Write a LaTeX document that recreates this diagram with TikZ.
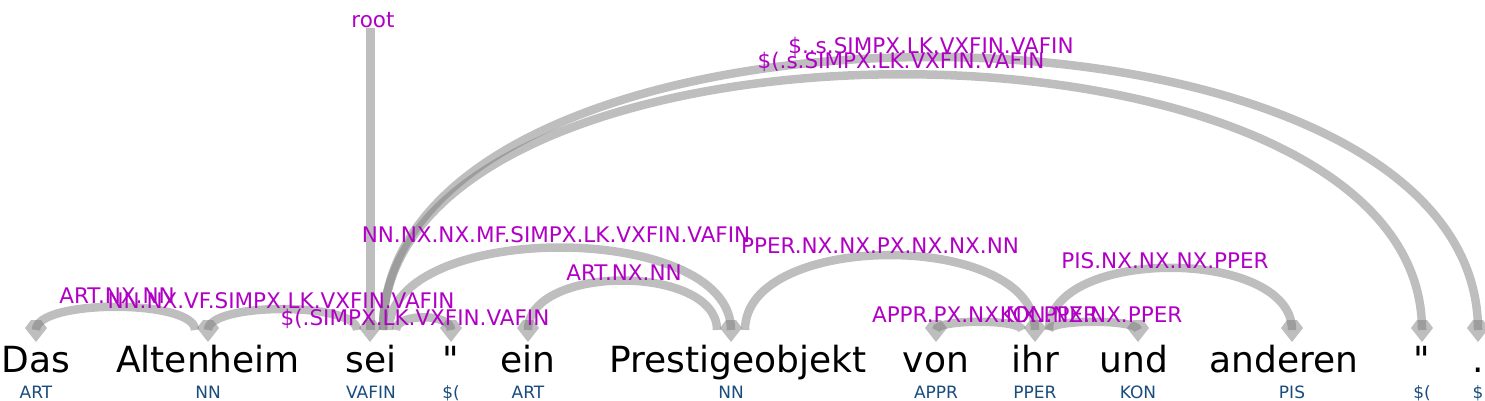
\documentclass[tikz,border=0pt]{standalone}
\usepackage{fontspec}
\newfontfamily\dejavu{DejaVu Sans}
\definecolor{lblc}{RGB}{176,0,196}
\definecolor{tagc}{RGB}{25,75,125}
\definecolor{arcc}{RGB}{125,125,125}
\tikzset{
  word/.style={anchor=base, inner sep=0pt, font=\dejavu\fontsize{36}{40}\selectfont},
  tagtext/.style={anchor=base, inner sep=0pt, text=tagc, font=\dejavu\fontsize{17}{20}\selectfont},
  lbl/.style={anchor=base, inner sep=0pt, text=lblc, font=\dejavu\fontsize{21.5}{24}\selectfont},
  arcline/.style={draw=arcc, draw opacity=0.5, line width=8.5pt},
  kite/.pic={\fill[arcc, fill opacity=0.5] (-5,-10) -- (5,-10) -- (11,-2) -- (0,12) -- (-11,-2) -- cycle;}
}
\begin{document}
\begin{tikzpicture}[x=1pt,y=-1pt]
\useasboundingbox (0,0) rectangle (1485,400);
% words
\node[word] (w1) at (36,372) {Das};
\node[word] (w2) at (208,372) {Altenheim};
\node[word] (w3) at (371,372) {sei};
\node[word] (w4) at (451,372) {"};
\node[word] (w5) at (528,372) {ein};
\node[word] (w6) at (738,372) {Prestigeobjekt};
\node[word] (w7) at (936,372) {von};
\node[word] (w8) at (1035,372) {ihr};
\node[word] (w9) at (1134,372) {und};
\node[word] (w10) at (1284,372) {anderen};
\node[word] (w11) at (1422,372) {"};
\node[word] (w12) at (1478,372) {.};
% tags
\node[tagtext] (t1) at (36,398) {ART};
\node[tagtext] (t2) at (208,398) {NN};
\node[tagtext] (t3) at (371,398) {VAFIN};
\node[tagtext] (t4) at (451,398) {\$(};
\node[tagtext] (t5) at (528,398) {ART};
\node[tagtext] (t6) at (731,398) {NN};
\node[tagtext] (t7) at (936,398) {APPR};
\node[tagtext] (t8) at (1035,398) {PPER};
\node[tagtext] (t9) at (1138,398) {KON};
\node[tagtext] (t10) at (1292,398) {PIS};
\node[tagtext] (t11) at (1422,398) {\$(};
\node[tagtext] (t12) at (1478,398) {\$};
% arc end points
\coordinate (d1) at (36,330);
\coordinate (d2) at (208,330);
\coordinate (d3) at (370,330);
\coordinate (d4) at (451,330);
\coordinate (d5) at (528,330);
\coordinate (d6) at (731,330);
\coordinate (d7) at (936,330);
\coordinate (d8) at (1035,330);
\coordinate (d9) at (1138,330);
\coordinate (d10) at (1292,330);
\coordinate (d11) at (1422,330);
\coordinate (d12) at (1478,330);
\coordinate (hA) at (195,330);
\coordinate (hB) at (357,330);
\coordinate (hD) at (396,330);
\coordinate (hE) at (389,330);
\coordinate (hK) at (383,330);
\coordinate (hF) at (717,330);
\coordinate (hG) at (745,330);
\coordinate (hH) at (1022,330);
\coordinate (hI) at (1049,330);
\coordinate (rootc) at (370,28);
% arcs
\draw[arcline] (hA) .. controls +(0,-31) and +(0,-31) .. (d1);
\draw[arcline] (hB) .. controls +(0,-28) and +(0,-28) .. (d2);
\draw[arcline, line width=9pt] (rootc) -- (d3);
\draw[arcline] (hD) .. controls +(0,-17) and +(0,-17) .. (d4);
\draw[arcline] (hE) .. controls +(0,-110) and +(0,-110) .. (d6);
\draw[arcline] (hF) .. controls +(0,-66) and +(0,-66) .. (d5);
\draw[arcline] (hG) .. controls +(0,-100) and +(0,-100) .. (d8);
\draw[arcline] (hH) .. controls +(0,-11) and +(0,-11) .. (d7);
\draw[arcline] (hI) .. controls +(0,-11) and +(0,-11) .. (d9);
\draw[arcline] (hI) .. controls +(0,-83) and +(0,-83) .. (d10);
\draw[arcline] (hK) .. controls +(0,-341) and +(0,-341) .. (d11);
\draw[arcline] (hK) .. controls +(0,-364) and +(0,-364) .. (d12);
% arrow heads
\foreach \d in {d1,d2,d3,d4,d5,d6,d7,d8,d9,d10,d11,d12}
  \pic at (\d) {kite};
% labels
\node[lbl] (lA) at (117,303) {ART.NX.NN};
\node[lbl] (lB) at (281,308) {NN.NX.VF.SIMPX.LK.VXFIN.VAFIN};
\node[lbl] (lD) at (415,325) {\$(.SIMPX.LK.VXFIN.VAFIN};
\node[lbl] (lE) at (556,242) {NN.NX.NX.MF.SIMPX.LK.VXFIN.VAFIN};
\node[lbl] (lF) at (624,280) {ART.NX.NN};
\node[lbl] (lG) at (880,253) {PPER.NX.NX.PX.NX.NX.NN};
\node[lbl] (lH) at (985,322) {APPR.PX.NX.NX.PPER};
\node[lbl] (lI) at (1091,322) {KON.NX.NX.PPER};
\node[lbl] (lJ) at (1165,268) {PIS.NX.NX.NX.PPER};
\node[lbl] (lK) at (901,68) {\$(.s.SIMPX.LK.VXFIN.VAFIN};
\node[lbl] (lL) at (931,53) {\$..s.SIMPX.LK.VXFIN.VAFIN};
\node[lbl] (lroot) at (373,27) {root};
\end{tikzpicture}
\end{document}
